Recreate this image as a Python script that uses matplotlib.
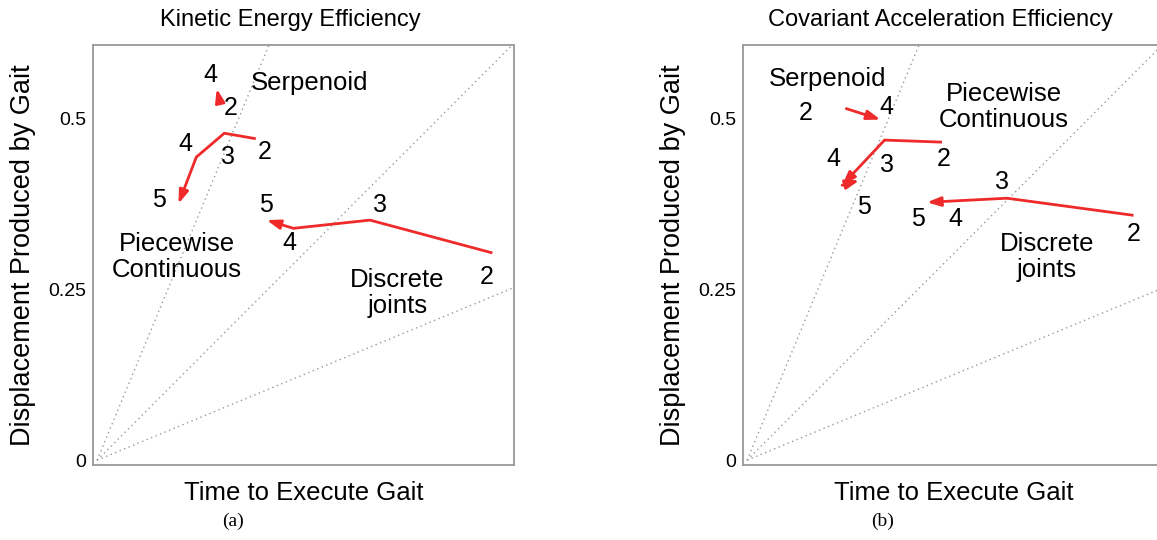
import matplotlib
matplotlib.use('Agg')
import numpy as np
from matplotlib import pyplot as plt

plt.rcParams['font.family'] = ['Liberation Sans', 'DejaVu Sans']

# efficiency rays (displacement / time) drawn through the origin
RAY_SLOPES = [np.tan(np.radians(67.5)), 1.0, np.tan(np.radians(22.5))]

# (a) kinetic energy efficiency -- gait paths, points ordered by number of joints
KE_SERP_X = [0.180, 0.175]
KE_SERP_Y = [0.521, 0.543]
KE_PW_X = [0.232, 0.186, 0.145, 0.119]
KE_PW_Y = [0.470, 0.478, 0.443, 0.375]
KE_DJ_X = [0.578, 0.399, 0.287, 0.248]
KE_DJ_Y = [0.303, 0.351, 0.339, 0.351]

# (b) covariant acceleration efficiency
CA_SERP_X = [0.145, 0.195]
CA_SERP_Y = [0.514, 0.498]
CA_PW_X = [0.285, 0.201, 0.139, 0.164]
CA_PW_Y = [0.465, 0.468, 0.402, 0.409]
CA_DJ_X = [0.565, 0.380, 0.263]
CA_DJ_Y = [0.358, 0.383, 0.377]

# joint-count labels: (text, x, y)
KE_NUMS = [('2', 0.196, 0.515), ('4', 0.165, 0.563),
           ('2', 0.245, 0.451), ('3', 0.192, 0.443), ('4', 0.129, 0.463), ('5', 0.091, 0.380),
           ('2', 0.570, 0.268), ('3', 0.414, 0.373), ('4', 0.281, 0.317), ('5', 0.247, 0.373)]
CA_NUMS = [('2', 0.085, 0.507), ('4', 0.204, 0.516),
           ('2', 0.288, 0.441), ('3', 0.204, 0.431), ('4', 0.126, 0.440), ('5', 0.171, 0.370),
           ('2', 0.565, 0.331), ('3', 0.372, 0.407), ('4', 0.304, 0.353), ('5', 0.250, 0.353)]

KE_NAMES = [('Serpenoid', 0.310, 0.551), ('Piecewise\nContinuous', 0.117, 0.297),
            ('Discrete\njoints', 0.439, 0.244)]
CA_NAMES = [('Serpenoid', 0.117, 0.557), ('Piecewise\nContinuous', 0.376, 0.516),
            ('Discrete\njoints', 0.438, 0.297)]

RED = '#ee2a2a'


def draw_path(ax, xs, ys):
    # polyline with an arrowhead on the last segment
    if len(xs) > 2:
        ax.plot(xs[:-1], ys[:-1], color=RED, lw=2.0, solid_capstyle='butt', zorder=3)
    ax.annotate('', xy=(xs[-1], ys[-1]), xytext=(xs[-2], ys[-2]),
                arrowprops=dict(arrowstyle='-|>,head_length=0.8,head_width=0.28',
                                color=RED, lw=2.0, shrinkA=0, shrinkB=0), zorder=3)


def draw_panel(ax, title, tag, paths, nums, names):
    ax.set_xlim(-0.006, 0.6096)
    ax.set_ylim(-0.007, 0.607)
    xr = np.array([0.0, 1.0])
    for s in RAY_SLOPES:
        ax.plot(xr, s * xr, color='#999999', lw=1.0, ls=(0, (1, 2.5)), zorder=1)
    for xs, ys in paths:
        draw_path(ax, xs, ys)
    for t, x, y in nums:
        ax.text(x, y, t, fontsize=18, ha='center', va='center', zorder=4)
    for t, x, y in names:
        ax.text(x, y, t, fontsize=18.5, ha='center', va='center', linespacing=1.1, zorder=4)

    ax.set_xticks([])
    ax.set_yticks([0, 0.25, 0.5])
    ax.set_yticklabels(['0', '0.25', '0.5'])
    ax.tick_params(axis='y', length=0, pad=5, labelsize=14)
    for sp in ax.spines.values():
        sp.set_color('#999999')
        sp.set_linewidth(1.3)

    ax.text(0.468, 1.0 + 25 / 420, title, transform=ax.transAxes,
            fontsize=17, ha='center', va='center')
    ax.text(0.5, -28 / 420, 'Time to Execute Gait', transform=ax.transAxes,
            fontsize=18.5, ha='center', va='center')
    ax.text(-0.166, 0.5, 'Displacement Produced by Gait', transform=ax.transAxes,
            fontsize=19.5, rotation=90, ha='center', va='center')
    ax.text(0.332, -0.135, tag, transform=ax.transAxes, fontsize=14,
            family=['Liberation Serif', 'DejaVu Serif'], ha='center', va='center')


fig = plt.figure(figsize=(11.57, 5.4), dpi=100)
ax_a = fig.add_axes([93 / 1157, 75 / 540, 421 / 1157, 420 / 540])
ax_b = fig.add_axes([743 / 1157, 75 / 540, 421 / 1157, 420 / 540])

draw_panel(ax_a, 'Kinetic Energy Efficiency', '(a)',
           [(KE_SERP_X, KE_SERP_Y), (KE_PW_X, KE_PW_Y), (KE_DJ_X, KE_DJ_Y)],
           KE_NUMS, KE_NAMES)

# the piecewise path in (b) doubles back at the end: arrowhead at 4, then a short hop to 5
draw_panel(ax_b, 'Covariant Acceleration Efficiency', '(b)',
           [(CA_SERP_X, CA_SERP_Y), (CA_PW_X[:3], CA_PW_Y[:3]),
            (CA_PW_X[2:], CA_PW_Y[2:]), (CA_DJ_X, CA_DJ_Y)],
           CA_NUMS, CA_NAMES)

fig.savefig('out.png', dpi=100)
